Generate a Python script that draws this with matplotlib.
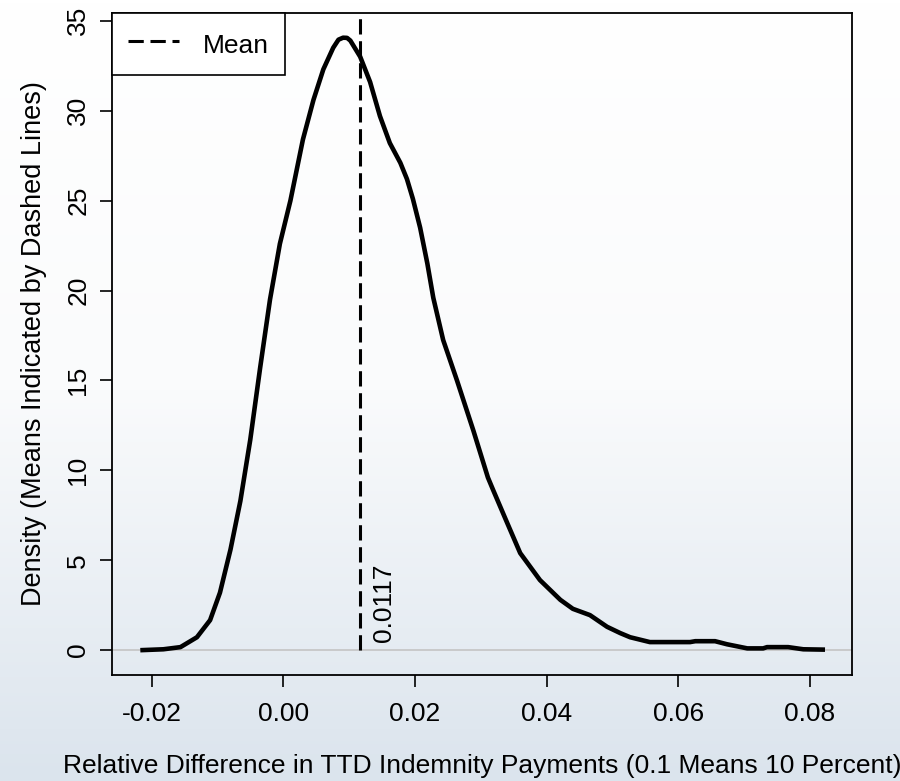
import numpy as np
import matplotlib
matplotlib.use('Agg')
import matplotlib.pyplot as plt
from matplotlib.colors import LinearSegmentedColormap

plt.rcParams['font.family'] = ['Liberation Sans', 'DejaVu Sans']

# density curve
diff = [-0.0217, -0.0182, -0.0156, -0.0131, -0.0111, -0.0096, -0.0080, -0.0065,
        -0.0050, -0.0035, -0.0020, -0.0005, 0.0011, 0.0030, 0.0046, 0.0061,
        0.0076, 0.0084, 0.0091, 0.0097, 0.0102, 0.0117, 0.0132, 0.0147, 0.0162,
        0.0178, 0.0188, 0.0197, 0.0208, 0.0219, 0.0228, 0.0243, 0.0264, 0.0289,
        0.0311, 0.0319, 0.0340, 0.0360, 0.0390, 0.0421, 0.0440, 0.0466, 0.0492,
        0.0512, 0.0527, 0.0557, 0.0618, 0.0626, 0.0656, 0.0674, 0.0705, 0.0729,
        0.0735, 0.0767, 0.0790, 0.0823]
density = [0.0, 0.05, 0.17, 0.72, 1.67, 3.2, 5.6, 8.3,
           11.7, 15.7, 19.5, 22.6, 25.0, 28.4, 30.6, 32.3,
           33.5, 33.95, 34.06, 34.05, 33.9, 33.0, 31.6, 29.7, 28.2,
           27.1, 26.2, 25.1, 23.5, 21.5, 19.6, 17.25, 15.0, 12.2,
           9.6, 8.9, 7.1, 5.4, 3.9, 2.8, 2.3, 1.95, 1.3,
           0.95, 0.72, 0.45, 0.45, 0.5, 0.5, 0.33, 0.1, 0.1,
           0.17, 0.17, 0.05, 0.03]
mean_val = 0.0117
xticks = [-0.02, 0.00, 0.02, 0.04, 0.06, 0.08]
yticks = [0, 5, 10, 15, 20, 25, 30, 35]

fig = plt.figure(figsize=(9, 7.81), dpi=100)

# gradient backdrop
bg = fig.add_axes([0, 0, 1, 1], zorder=-10)
cmap = LinearSegmentedColormap.from_list('bg', ['#ffffff', '#fafbfc', '#dbe4ed'])
bg.imshow(np.linspace(0, 1, 256).reshape(-1, 1), aspect='auto', cmap=cmap,
          extent=[0, 1, 0, 1], origin='upper')
bg.axis('off')

ax = fig.add_axes([112/900, 1 - 675/781, 740/900, (675 - 12.7)/781])
ax.set_facecolor('none')

ax.axhline(0, color='#c4c4c4', lw=1.2, zorder=1)
ax.plot(diff, density, color='black', lw=3.3, solid_joinstyle='round',
        solid_capstyle='butt', zorder=3)
ax.vlines(mean_val, 0, 36, colors='black', lw=2.2, linestyles=(0, (5, 2.2)),
          label='Mean', zorder=2)
ax.text(0.01355, 0.45, '%.4f' % mean_val, rotation=90, ha='left', va='bottom',
        fontsize=19)

ax.set_xlim(-0.0260, 0.0864)
ax.set_ylim(-1.38, 35.45)
ax.set_xticks(xticks)
ax.set_xticklabels(['%.2f' % t for t in xticks])
ax.set_yticks(yticks)
ax.set_yticklabels([str(t) for t in yticks], rotation=90, va='center')
ax.tick_params(axis='both', direction='out', length=8.6, width=1.2, labelsize=19)
ax.tick_params(axis='x', pad=11)
ax.tick_params(axis='y', pad=7)
for s in ax.spines.values():
    s.set_linewidth(1.3)

ax.set_xlabel('Relative Difference in TTD Indemnity Payments (0.1 Means 10 Percent)',
              fontsize=19, labelpad=20)
ax.set_ylabel('Density (Means Indicated by Dashed Lines)', fontsize=19.5, labelpad=14)

leg = ax.legend(loc='upper left', borderaxespad=0, fancybox=False, fontsize=19,
                edgecolor='black', framealpha=1, handlelength=1.95,
                handleheight=1.4, handletextpad=0.9, borderpad=0.6)
leg.get_frame().set_linewidth(1.2)

fig.savefig('out.png', dpi=100)
